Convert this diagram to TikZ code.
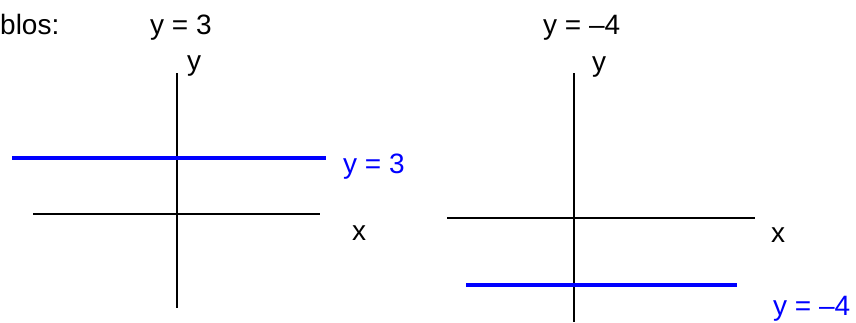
\documentclass[tikz,border=0pt]{standalone}
\usepackage{fontspec}
\setmainfont{Liberation Sans}
\definecolor{lineblue}{RGB}{0,0,255}
\begin{document}
\begin{tikzpicture}[x=1pt,y=-1pt,
  lbl/.style={inner sep=0pt,anchor=base west,font=\fontsize{28}{30}\selectfont},
  bluelbl/.style={lbl,text=lineblue},
  axis/.style={draw=black,line width=1.4pt},
  graph/.style={draw=lineblue,line width=3.6pt}]
\useasboundingbox (0,0) rectangle (856,322);
% titles
\node[lbl] (ej) at (0,34) {blos:};
\node[lbl] (t1) at (150,34) {y = 3};
\node[lbl] (t2) at (543,34) {y = –4};
% left graph
\coordinate (ly0) at (177,73);
\coordinate (ly1) at (177,308);
\coordinate (lx0) at (33,214);
\coordinate (lx1) at (320,214);
\coordinate (lb0) at (12,158);
\coordinate (lb1) at (326,158);
\draw[axis] (ly0) -- (ly1);
\draw[axis] (lx0) -- (lx1);
\draw[graph] (lb0) -- (lb1);
\node[lbl] (ly) at (187,70) {y};
\node[lbl] (lx) at (352,240) {x};
\node[bluelbl] (lbl1) at (343,173) {y = 3};
% right graph
\coordinate (ry0) at (574,73);
\coordinate (ry1) at (574,322);
\coordinate (rx0) at (447,218);
\coordinate (rx1) at (755,218);
\coordinate (rb0) at (466,285);
\coordinate (rb1) at (737,285);
\draw[axis] (ry0) -- (ry1);
\draw[axis] (rx0) -- (rx1);
\draw[graph] (rb0) -- (rb1);
\node[lbl] (ry) at (592,71) {y};
\node[lbl] (rx) at (771,242) {x};
\node[bluelbl] (lbl2) at (773,315) {y = –4};
\end{tikzpicture}
\end{document}
